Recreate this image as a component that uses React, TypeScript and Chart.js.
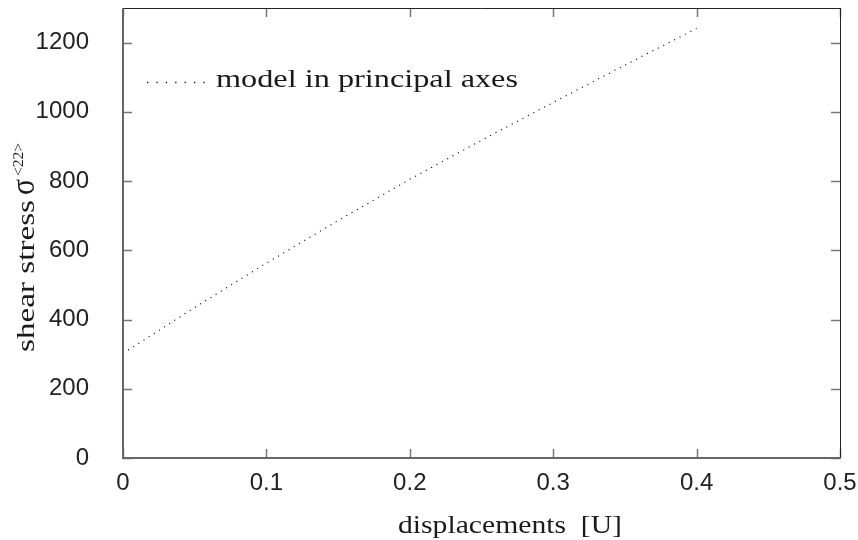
import React, { useEffect, useRef } from "react";
import { Chart, registerables } from "chart.js";

Chart.register(...registerables);

const xValues = [0, 0.05, 0.1, 0.15, 0.2, 0.25, 0.3, 0.35, 0.4];
const yValues = [302, 435, 563, 686, 805, 918, 1027, 1135, 1241];
const xTicks = [0, 0.1, 0.2, 0.3, 0.4, 0.5];
const yTicks = [0, 200, 400, 600, 800, 1000, 1200];
const seriesLabel = "model in principal axes";
const xTitle = "displacements  [U]";
const yTitleMain = "shear stress";
const yTitleSymbol = "σ";
const yTitleSup = "<22>";

const SERIF = "'Liberation Serif', 'Times New Roman', serif";
const SANS = "'Liberation Sans', Arial, sans-serif";

function fitText(ctx: CanvasRenderingContext2D, text: string, x: number, y: number, targetW: number, font: string) {
  ctx.save();
  ctx.font = font;
  const w = ctx.measureText(text).width;
  ctx.translate(x, y);
  ctx.scale(targetW / w, 1);
  ctx.textAlign = "left";
  ctx.textBaseline = "alphabetic";
  ctx.fillText(text, 0, 0);
  ctx.restore();
}

const framePlugin = {
  id: "frame",
  afterDraw(chart: any) {
    const { ctx, chartArea } = chart;
    const { left, right, top, bottom } = chartArea;
    const xs = chart.scales.x;
    const ys = chart.scales.y;
    ctx.save();
    // inward ticks
    ctx.strokeStyle = "#777";
    ctx.lineWidth = 1.5;
    const tl = 9;
    ctx.beginPath();
    for (const v of yTicks) {
      const py = Math.round(ys.getPixelForValue(v)) + 0.5;
      ctx.moveTo(left, py);
      ctx.lineTo(left + tl, py);
      ctx.moveTo(right, py);
      ctx.lineTo(right - tl, py);
    }
    for (const v of xTicks) {
      const px = Math.round(xs.getPixelForValue(v)) + 0.5;
      ctx.moveTo(px, bottom);
      ctx.lineTo(px, bottom - tl);
      ctx.moveTo(px, top);
      ctx.lineTo(px, top + tl);
    }
    ctx.stroke();
    // box
    ctx.strokeStyle = "#222";
    ctx.lineWidth = 1;
    ctx.beginPath();
    ctx.moveTo(left, top + 0.5);
    ctx.lineTo(right + 0.5, top + 0.5);
    ctx.lineTo(right + 0.5, bottom);
    ctx.stroke();
    ctx.strokeStyle = "#666";
    ctx.lineWidth = 2;
    ctx.beginPath();
    ctx.moveTo(left, top);
    ctx.lineTo(left, bottom);
    ctx.lineTo(right + 1, bottom);
    ctx.stroke();

    ctx.fillStyle = "#1a1a1a";
    // x title
    fitText(ctx, xTitle, 398, 533, 224, `25px ${SERIF}`);
    // y title (rotated)
    ctx.save();
    ctx.translate(33.5, 352);
    ctx.rotate(-Math.PI / 2);
    fitText(ctx, yTitleMain, 0, 0, 152, `25px ${SERIF}`);
    fitText(ctx, yTitleSymbol, 157, 0, 16, `33px ${SERIF}`);
    fitText(ctx, yTitleSup, 176, -11, 33, `14px ${SERIF}`);
    ctx.restore();
    // legend
    ctx.strokeStyle = "#111";
    ctx.lineWidth = 1.3;
    ctx.setLineDash([1.3, 8.1]);
    ctx.beginPath();
    ctx.moveTo(147, 82.5);
    ctx.lineTo(207, 82.5);
    ctx.stroke();
    ctx.setLineDash([]);
    fitText(ctx, seriesLabel, 216, 87, 302, `25px ${SERIF}`);
    ctx.restore();
  },
};

function zeroPad(s: any) {
  s.paddingTop = 0;
  s.paddingBottom = 0;
  s.paddingLeft = 0;
  s.paddingRight = 0;
}

export default function App() {
  const ref = useRef<HTMLCanvasElement>(null);
  useEffect(() => {
    if (!ref.current) return;
    const chart = new Chart(ref.current, {
      type: "scatter",
      data: {
        datasets: [
          {
            label: seriesLabel,
            data: xValues.map((x, i) => ({ x, y: yValues[i] })),
            showLine: true,
            borderColor: "#000",
            borderWidth: 1.1,
            borderDash: [1.1, 5],
            pointRadius: 0,
            fill: false,
          },
        ],
      },
      options: {
        animation: false,
        responsive: true,
        maintainAspectRatio: false,
        layout: { padding: { left: 0, top: 8, right: 18, bottom: 0 } },
        plugins: { legend: { display: false }, tooltip: { enabled: false } },
        scales: {
          x: {
            type: "linear",
            min: 0,
            max: 0.5,
            afterFit: (s: any) => {
              s.height = 82;
              zeroPad(s);
            },
            afterBuildTicks: (s: any) => {
              s.ticks = xTicks.map((v) => ({ value: v }));
            },
            grid: { display: false },
            border: { display: false },
            ticks: {
              padding: 3,
              color: "#222",
              font: { family: SANS, size: 24 },
              callback: (v: any) => (Number(v) === 0 ? "0" : Number(v).toFixed(1)),
            },
          },
          y: {
            type: "linear",
            min: 0,
            max: 1300,
            afterFit: (s: any) => {
              s.width = 123;
              zeroPad(s);
            },
            afterBuildTicks: (s: any) => {
              s.ticks = yTicks.map((v) => ({ value: v }));
            },
            grid: { display: false },
            border: { display: false },
            ticks: {
              padding: 26,
              color: "#222",
              font: { family: SANS, size: 24 },
              callback: (v: any) => String(v),
            },
          },
        },
      },
      plugins: [framePlugin],
    });
    return () => chart.destroy();
  }, []);
  return (
    <div style={{ position: "fixed", left: 0, top: 0, width: 858, height: 540, background: "#fff" }}>
      <canvas ref={ref} />
    </div>
  );
}
